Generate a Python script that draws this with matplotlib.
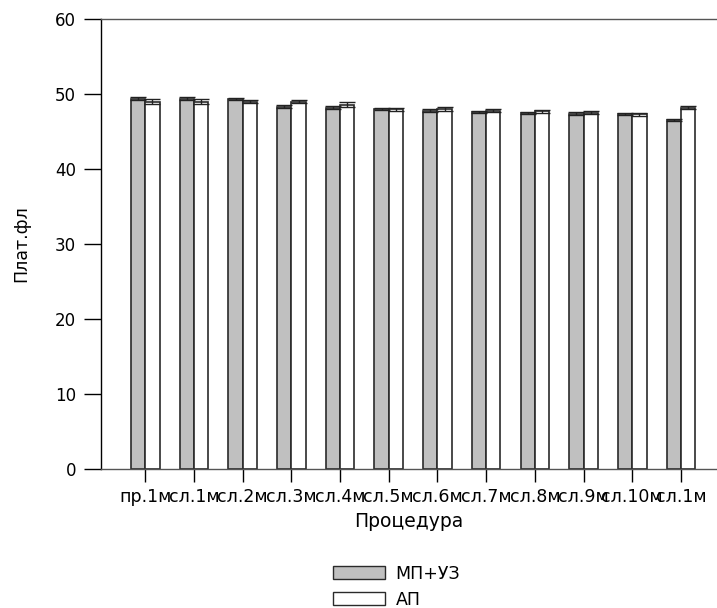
import matplotlib
matplotlib.use("Agg")
import matplotlib.pyplot as plt
import numpy as np
from matplotlib.patches import Patch

categories = ["пр.1м", "сл.1м", "сл.2м", "сл.3м", "сл.4м", "сл.5м", "сл.6м",
              "сл.7м", "сл.8м", "сл.9м", "сл.10м", "сл.1м"]
mp_uz = [49.4, 49.4, 49.3, 48.3, 48.2, 48.0, 47.8, 47.6, 47.5, 47.4, 47.3, 46.5]
mp_uz_err = [0.15, 0.15, 0.15, 0.2, 0.2, 0.15, 0.2, 0.15, 0.15, 0.15, 0.15, 0.15]
ap = [49.0, 49.0, 49.0, 49.0, 48.6, 48.0, 48.0, 47.8, 47.7, 47.5, 47.3, 48.2]
ap_err = [0.3, 0.3, 0.25, 0.2, 0.3, 0.2, 0.25, 0.15, 0.2, 0.2, 0.2, 0.2]
yticks = [0, 10, 20, 30, 40, 50, 60]

plt.rcParams['font.family'] = ['DejaVu Sans']
fig = plt.figure(figsize=(7.17, 6.08), dpi=100)
ax = fig.add_axes([101/717, 139/608, 616/717, 450/608])

x = np.arange(len(categories))
w = 0.294
edge = '#2a2a2a'
ax.bar(x - w/2, mp_uz, w, color='#c0c0c0', edgecolor=edge, linewidth=1.2, zorder=2)
ax.bar(x + w/2, ap, w, color='white', edgecolor=edge, linewidth=1.2, zorder=2)
ax.errorbar(x - w/2, mp_uz, yerr=mp_uz_err, fmt='none', ecolor='#222222',
            elinewidth=1, capsize=5.5, capthick=1, zorder=3)
ax.errorbar(x + w/2, ap, yerr=ap_err, fmt='none', ecolor='#222222',
            elinewidth=1, capsize=5.5, capthick=1, zorder=3)

ax.set_xlim(-0.91, 11.74)
ax.set_ylim(0, 60)
ax.set_yticks(yticks)
ax.set_xticks(x)
ax.set_xticklabels(categories)
ax.tick_params(axis='y', direction='out', length=12, width=1, labelsize=12, pad=6)
ax.tick_params(axis='x', direction='out', length=9, width=1, labelsize=12.5, pad=5)
ax.spines['right'].set_visible(False)
for s in ['top', 'bottom', 'left']:
    ax.spines[s].set_linewidth(1)
ax.spines['top'].set_color('#555555')
ax.spines['bottom'].set_color('#555555')

ax.set_xlabel("Процедура", fontsize=13.5, labelpad=4)
ax.set_ylabel("Плат.фл", fontsize=12.5, labelpad=18)

handles = [Patch(facecolor='#c0c0c0', edgecolor=edge, linewidth=1),
           Patch(facecolor='white', edgecolor=edge, linewidth=1)]
fig.legend(handles, ["МП+УЗ", "АП"], loc='center', bbox_to_anchor=(0.553, 0.035),
           frameon=False, fontsize=12.5, handlelength=3.0, handleheight=0.75,
           labelspacing=0.45, handletextpad=0.6)

fig.savefig("out.png", dpi=100)
